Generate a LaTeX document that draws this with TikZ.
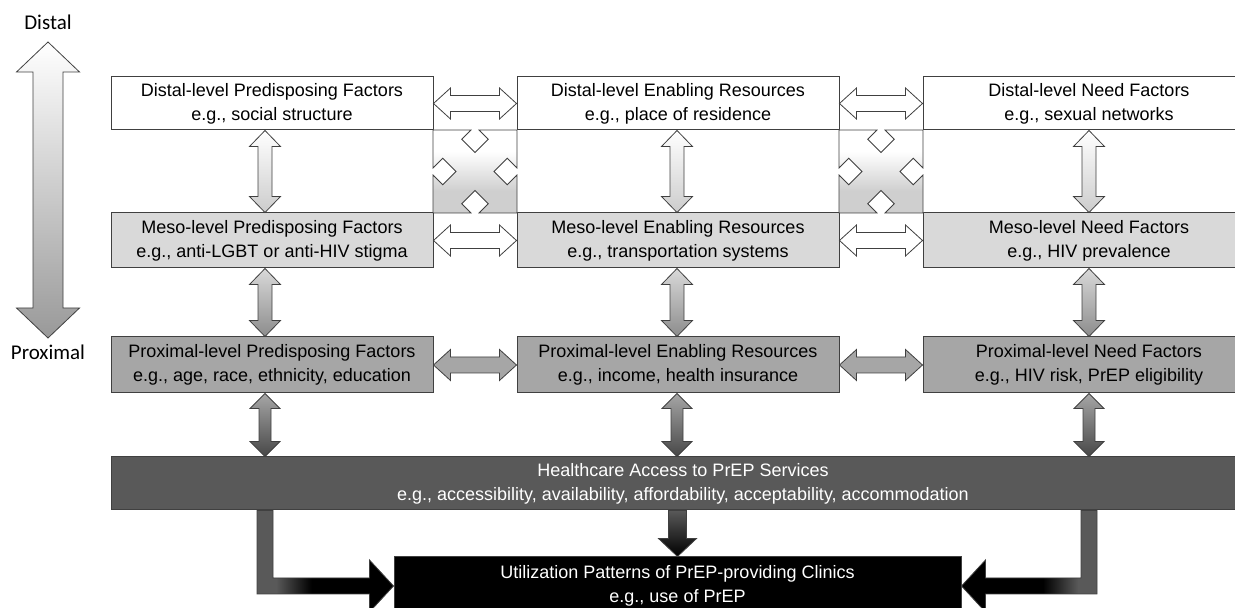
\documentclass[tikz,border=0pt]{standalone}
\usepackage{fontspec}
\setmainfont{Liberation Sans}
\newfontfamily\lblfont{Carlito}
\usetikzlibrary{calc}
\definecolor{mesoC}{HTML}{D9D9D9}
\definecolor{proxC}{HTML}{A6A6A6}
\definecolor{hcC}{HTML}{595959}
\definecolor{lineC}{HTML}{404040}
\pgfdeclarehorizontalshading{elbowL}{100bp}{color(0bp)=(hcC); color(32bp)=(hcC); color(45bp)=(black); color(100bp)=(black)}
\pgfdeclarehorizontalshading{elbowR}{100bp}{color(0bp)=(black); color(55bp)=(black); color(68bp)=(hcC); color(100bp)=(hcC)}
\pgfdeclareverticalshading{xsh}{100bp}{color(0bp)=(black!19); color(38bp)=(black!19); color(62bp)=(white); color(100bp)=(white)}
% vertical double block arrow: x from #1, top y from #1, bottom y from #2
\newcommand\vdarrow[6]{\path[#6] let \p1=(#1), \p2=(#2) in
 (\x1,\y1) -- (\x1+#4,\y1-#5) -- (\x1+#3,\y1-#5) -- (\x1+#3,\y2+#5) -- (\x1+#4,\y2+#5) -- (\x1,\y2)
 -- (\x1-#4,\y2+#5) -- (\x1-#3,\y2+#5) -- (\x1-#3,\y1-#5) -- (\x1-#4,\y1-#5) -- cycle;}
% horizontal double block arrow: y from #1, left x from #1, right x from #2
\newcommand\hdarrow[6]{\path[#6] let \p1=(#1), \p2=(#2) in
 (\x1,\y1) -- (\x1+#5,\y1+#4) -- (\x1+#5,\y1+#3) -- (\x2-#5,\y1+#3) -- (\x2-#5,\y1+#4) -- (\x2,\y1)
 -- (\x2-#5,\y1-#4) -- (\x2-#5,\y1-#3) -- (\x1+#5,\y1-#3) -- (\x1+#5,\y1-#4) -- cycle;}
% single down block arrow: top y from #1, x and tip from #2
\newcommand\sdarrow[6]{\path[#6] let \p1=(#1), \p2=(#2) in
 (\x2-#3,\y1) -- (\x2+#3,\y1) -- (\x2+#3,\y2+#5) -- (\x2+#4,\y2+#5) -- (\x2,\y2)
 -- (\x2-#4,\y2+#5) -- (\x2-#3,\y2+#5) -- cycle;}
% crossing diagonal arrows between two rows
\newcommand\xcross[1]{\path[xstyle, shift={(#1)}]
 (-42,41.5) -- (-4,41.5) -- (-13.25,32.25) -- (0,19) -- (13.25,32.25) -- (4,41.5) -- (42,41.5)
 -- (42,3.5) -- (32.25,13.25) -- (19,0) -- (32.25,-13.25) -- (42,-3.5) -- (42,-41.5)
 -- (4,-41.5) -- (13.25,-32.25) -- (0,-19) -- (-13.25,-32.25) -- (-4,-41.5) -- (-42,-41.5)
 -- (-42,-3.5) -- (-32.25,-13.25) -- (-19,0) -- (-32.25,13.25) -- (-42,3.5) -- cycle;}
\tikzset{
 box/.style={draw=lineC, line width=1pt, align=center, inner sep=0pt,
   font=\fontsize{18}{24}\selectfont},
 arr/.style={draw=lineC, line width=0.8pt},
 xstyle/.style={draw=lineC, line width=0.8pt, shading=xsh},
 lbl/.style={font=\lblfont\fontsize{21}{21}\selectfont}
}
\begin{document}
\begin{tikzpicture}[x=1pt,y=1pt]
\path[use as bounding box] (0,0) rectangle (1235,608);
\clip (0,0) rectangle (1235,608);

% rows of boxes
\node[box, fill=white, minimum width=322pt, minimum height=53pt] (d1) at (272,504.5) {Distal-level Predisposing Factors\\e.g., social structure};
\node[box, fill=white, minimum width=322pt, minimum height=53pt] (d2) at (678,504.5) {Distal-level Enabling Resources\\e.g., place of residence};
\node[box, fill=white, minimum width=332pt, minimum height=53pt] (d3) at (1089,504.5) {Distal-level Need Factors\\e.g., sexual networks};

\node[box, fill=mesoC, minimum width=322pt, minimum height=55pt] (m1) at (272,367.5) {Meso-level Predisposing Factors\\e.g., anti-LGBT or anti-HIV stigma};
\node[box, fill=mesoC, minimum width=322pt, minimum height=55pt] (m2) at (678,367.5) {Meso-level Enabling Resources\\e.g., transportation systems};
\node[box, fill=mesoC, minimum width=332pt, minimum height=55pt] (m3) at (1089,367.5) {Meso-level Need Factors\\e.g., HIV prevalence};

\node[box, fill=proxC, minimum width=322pt, minimum height=56pt] (p1) at (272,243) {Proximal-level Predisposing Factors\\e.g., age, race, ethnicity, education};
\node[box, fill=proxC, minimum width=322pt, minimum height=56pt] (p2) at (678,243) {Proximal-level Enabling Resources\\e.g., income, health insurance};
\node[box, fill=proxC, minimum width=332pt, minimum height=56pt] (p3) at (1089,243) {Proximal-level Need Factors\\e.g., HIV risk, PrEP eligibility};

\node[box, fill=hcC, text=white, minimum width=1144pt, minimum height=53pt] (hc) at (683,124.5) {Healthcare Access to PrEP Services\\e.g., accessibility, availability, affordability, acceptability, accommodation};
\node[box, fill=black, text=white, minimum width=567pt, minimum height=58pt] (u) at (677.5,22) {Utilization Patterns of PrEP-providing Clinics\\e.g., use of PrEP};

% crossing arrows between distal and meso rows
\coordinate (x1) at ($(d1.south east)!0.5!(m2.north west)$);
\coordinate (x2) at ($(d2.south east)!0.5!(m3.north west)$);
\xcross{x1}
\xcross{x2}

% horizontal double arrows
\hdarrow{d1.east}{d2.west}{8pt}{15.5pt}{17pt}{arr, fill=white}
\hdarrow{d2.east}{d3.west}{8pt}{15.5pt}{17pt}{arr, fill=white}
\hdarrow{m1.east}{m2.west}{8pt}{15.5pt}{17pt}{arr, fill=white}
\hdarrow{m2.east}{m3.west}{8pt}{15.5pt}{17pt}{arr, fill=white}
\hdarrow{p1.east}{p2.west}{8pt}{15.5pt}{17pt}{arr, fill=proxC}
\hdarrow{p2.east}{p3.west}{8pt}{15.5pt}{17pt}{arr, fill=proxC}

% vertical double arrows
\vdarrow{[xshift=-7pt]d1.south}{m1.north}{7pt}{15.5pt}{16pt}{arr, top color=white, bottom color=black!20}
\vdarrow{[xshift=-1pt]d2.south}{m2.north}{7pt}{15.5pt}{16pt}{arr, top color=white, bottom color=black!20}
\vdarrow{d3.south}{m3.north}{7pt}{15.5pt}{16pt}{arr, top color=white, bottom color=black!20}
\vdarrow{[xshift=-7pt]m1.south}{p1.north}{7pt}{15.5pt}{16pt}{arr, top color=mesoC, bottom color=black!45}
\vdarrow{[xshift=-1pt]m2.south}{p2.north}{7pt}{15.5pt}{16pt}{arr, top color=mesoC, bottom color=black!45}
\vdarrow{m3.south}{p3.north}{7pt}{15.5pt}{16pt}{arr, top color=mesoC, bottom color=black!45}
\vdarrow{[xshift=-7pt]p1.south}{hc.north}{6pt}{15pt}{15pt}{arr, top color=proxC, bottom color=black!72}
\vdarrow{[xshift=-1pt]p2.south}{hc.north}{6pt}{15pt}{15pt}{arr, top color=proxC, bottom color=black!72}
\vdarrow{p3.south}{hc.north}{6pt}{15pt}{15pt}{arr, top color=proxC, bottom color=black!72}

% arrows into utilization box
\sdarrow{hc.south}{u.north}{9pt}{19pt}{18pt}{arr, top color=hcC, bottom color=black}
\path[arr, shading=elbowL] let \p1=([xshift=-7pt]p1.south), \p2=(hc.south), \p3=(u.west) in
 (\x1-8pt,\y2) -- (\x1+8pt,\y2) -- (\x1+8pt,\y3+8pt) -- (\x3-24pt,\y3+8pt) -- (\x3-24pt,\y3+26pt)
 -- (\x3,\y3) -- (\x3-24pt,\y3-26pt) -- (\x3-24pt,\y3-8pt) -- (\x1-8pt,\y3-8pt) -- cycle;
\path[arr, shading=elbowR] let \p1=(p3.south), \p2=(hc.south), \p3=(u.east) in
 (\x1+8pt,\y2) -- (\x1-8pt,\y2) -- (\x1-8pt,\y3+8pt) -- (\x3+24pt,\y3+8pt) -- (\x3+24pt,\y3+26pt)
 -- (\x3,\y3) -- (\x3+24pt,\y3-26pt) -- (\x3+24pt,\y3-8pt) -- (\x1+8pt,\y3-8pt) -- cycle;

% distal-proximal scale arrow
\node[lbl] (dl) at (48,586) {Distal};
\node[lbl] (pl) at (48,256) {Proximal};
\coordinate (st) at (48,566);
\coordinate (sb) at (48,270);
\vdarrow{st}{sb}{15pt}{31.5pt}{30pt}{arr, top color=white, bottom color=black!40}
\end{tikzpicture}
\end{document}
